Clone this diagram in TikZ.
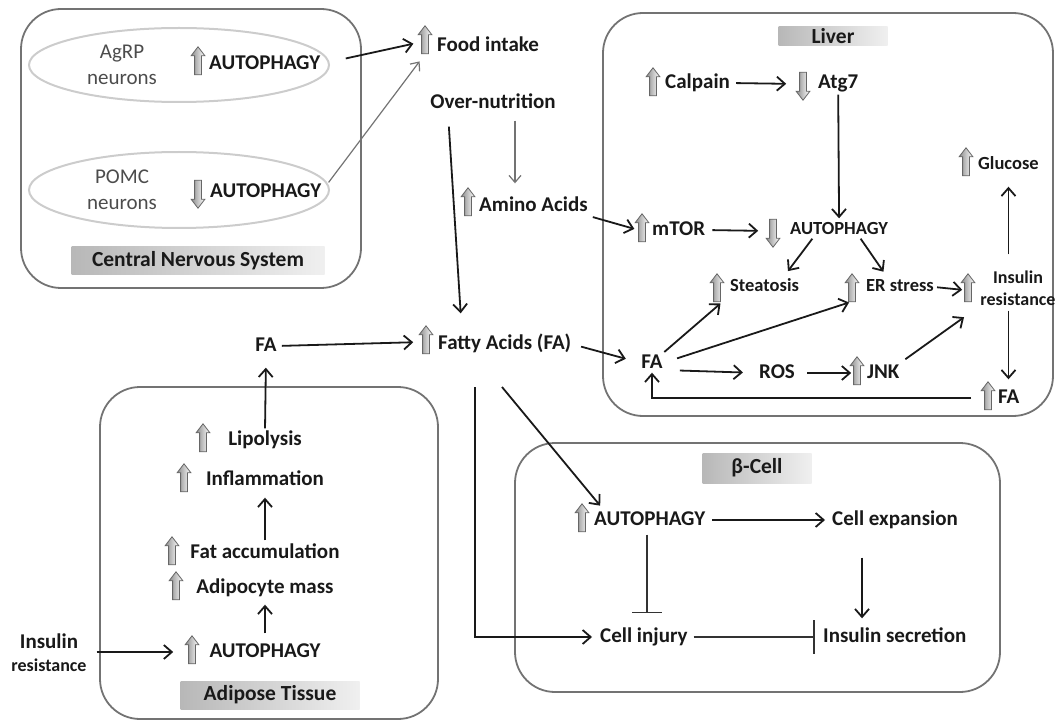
\documentclass[tikz,border=0pt]{standalone}
\usepackage{fontspec}
\setmainfont{Carlito}
\usetikzlibrary{arrows.meta,shapes.geometric,shapes.arrows}

\tikzset{
	lbl/.style={font=\bfseries\fontsize{21}{25}\selectfont, text=black!90, inner sep=0pt, text height=15pt, text depth=4pt},
	slbl/.style={font=\bfseries\fontsize{18.5}{22}\selectfont, text=black!90, inner sep=0pt, text height=13pt, text depth=4pt},
	twolbl/.style={text=black!90, inner sep=0pt, align=center},
	neur/.style={font=\fontsize{21}{26}\selectfont, text=black!70, inner sep=0pt, align=center},
	organ/.style={draw=black!55, line width=1.8pt, rounded corners=40pt},
	tissue/.style={font=\bfseries\fontsize{21.5}{25}\selectfont, text=black!90, inner sep=0pt, left color=black!28, right color=black!6},
	cell/.style={ellipse, draw=black!20, line width=2pt, minimum width=300pt},
	upa/.style={single arrow, shape border rotate=90, draw=black!60, line width=0.8pt, left color=black!45, right color=white, minimum height=28pt, inner sep=3pt, single arrow head extend=3.5pt, single arrow tip angle=75},
	downa/.style={upa, shape border rotate=270},
	arr/.style={line width=1.8pt, draw=black!90, -{Straight Barb[length=8pt,width=14pt]}},
	thinarr/.style={line width=1.2pt, draw=black!55, -{Straight Barb[length=7pt,width=12pt]}},
	inh/.style={line width=1.8pt, draw=black!80, -{Bar[width=#1]}},
}

\begin{document}
\begin{tikzpicture}[x=1pt, y=-1pt]
			%%%%% START %%%%%
			\useasboundingbox (0,0) rectangle (1058,722);
			
			% central nervous system
			\draw[organ] (21,9) rectangle (361,288);
			\node[cell, minimum height=74pt] (agrpell) at (179,65) {};
			\node[cell, minimum height=76pt] (pomcell) at (179,190) {};
			\node[neur] (agrp) at (122,65) {AgRP\\neurons};
			\node[neur] (pomc) at (122,190) {POMC\\neurons};
			\node[upa] (agrpup) at (198,63) {};
			\node[lbl, anchor=west] (agrpaut) at (209,64) {AUTOPHAGY};
			\node[downa] (pomcdown) at (198,192) {};
			\node[lbl, anchor=west] (pomcaut) at (210,192) {AUTOPHAGY};
			\node[tissue, minimum width=253pt, minimum height=28pt] (cns) at (198,261) {Central Nervous System};
			
			% food and nutrients
			\node[upa] (foodup) at (425,42) {};
			\node[lbl, anchor=west] (food) at (437,46) {Food intake};
			\node[lbl] (over) at (493,103) {Over-nutrition};
			\node[upa] (aminoup) at (468,204) {};
			\node[lbl, anchor=west] (amino) at (479,206) {Amino Acids};
			\node[upa] (fattyup) at (426,342) {};
			\node[lbl, anchor=west] (fatty) at (438,344) {Fatty Acids (FA)};
			\node[lbl] (fa) at (266,346) {FA};
			\coordinate (fadown) at (475,387);
			\coordinate (fadiag) at (502,387);
			
			% adipose tissue
			\draw[organ] (100,387) rectangle (438,719);
			\node[upa] (lipoup) at (203,440) {};
			\node[lbl] (lipo) at (265,440) {Lipolysis};
			\node[upa] (influp) at (184,480) {};
			\node[lbl] (infl) at (265,480) {Inflammation};
			\node[upa] (fatup) at (172,553) {};
			\node[lbl] (fatacc) at (265,553) {Fat accumulation};
			\node[upa] (adipoup) at (176,588) {};
			\node[lbl] (adipo) at (265,588) {Adipocyte mass};
			\node[upa] (aautup) at (192,652) {};
			\node[lbl] (aaut) at (265,652) {AUTOPHAGY};
			\node[tissue, minimum width=179pt, minimum height=28pt] (adip) at (270,695) {Adipose Tissue};
			\node[twolbl, font=\bfseries\fontsize{21}{23}\selectfont] (insres) at (49,653) {Insulin\\{\fontsize{18}{20}\selectfont resistance}};
			
			% beta cell
			\draw[organ] (515,443) rectangle (1000,692);
			\node[tissue, minimum width=109pt, minimum height=30pt] (beta) at (757,468) {β-Cell};
			\node[upa] (bautup) at (582,520) {};
			\node[lbl, anchor=west] (baut) at (594,520) {AUTOPHAGY};
			\node[lbl, anchor=west] (cexp) at (832,520) {Cell expansion};
			\node[lbl, anchor=west] (cinj) at (600,637) {Cell injury};
			\node[lbl, anchor=west] (isec) at (823,637) {Insulin secretion};
			
			% liver
			\draw[organ] (603,13) rectangle (1053,416);
			\node[tissue, minimum width=109pt, minimum height=19pt] (liver) at (833,36) {Liver};
			\node[upa] (calpup) at (653,84) {};
			\node[lbl, anchor=west] (calp) at (665,83) {Calpain};
			\node[downa] (atgdown) at (803,84) {};
			\node[lbl, anchor=west] (atg) at (818,83) {Atg7};
			\node[upa] (mtorup) at (642,230) {};
			\node[lbl, anchor=west] (mtor) at (652,230) {mTOR};
			\node[downa] (lautdown) at (773,231) {};
			\node[slbl, anchor=west] (laut) at (790,230) {AUTOPHAGY};
			\node[upa] (steatup) at (717,290) {};
			\node[slbl, anchor=west] (steat) at (730,287) {Steatosis};
			\node[upa] (ersup) at (852,290) {};
			\node[slbl, anchor=west] (ers) at (866,287) {ER stress};
			\node[upa] (insup) at (968,290) {};
			\node[twolbl, font=\bfseries\fontsize{18}{22}\selectfont] (ins) at (1018,288) {Insulin\\resistance};
			\node[upa] (glucup) at (966,164) {};
			\node[slbl, anchor=west] (gluc) at (978,165) {Glucose};
			\node[lbl] (lfa) at (652,363) {FA};
			\node[lbl] (ros) at (777,373) {ROS};
			\node[upa] (jnkup) at (857,373) {};
			\node[lbl, anchor=west] (jnk) at (867,373) {JNK};
			\node[upa] (rfaup) at (988,398) {};
			\node[lbl, anchor=west] (rfa) at (998,398) {FA};
			
			% connectors outside the organs
			\draw[arr, shorten <=26pt, shorten >=8pt] (agrpaut.east) -- (foodup.west);
			\draw[thinarr, shorten <=12pt, shorten >=9pt] (pomcaut.east) -- (foodup.south);
			\draw[thinarr, shorten <=8pt, shorten >=13pt] ([xshift=22pt]over.south) -- ([xshift=22pt]over.south |- amino.north);
			\draw[arr, shorten <=14pt, shorten >=21pt] ([xshift=-45pt]over.south) -- ([xshift=24pt]fatty.north west);
			\draw[arr, shorten <=5pt, shorten >=4pt] (amino.south east) -- (mtorup.west);
			\draw[arr, shorten <=10pt, shorten >=16pt] (fatty.east) -- (lfa.west);
			\draw[arr, shorten <=5pt, shorten >=9pt] (fa.east) -- (fattyup.west);
			\draw[arr, shorten <=2pt, shorten >=12pt] (lipo.north) -- (fa.south);
			\draw[arr, shorten >=6pt] (fadiag) -- ([xshift=10pt]baut.north west);
			\draw[arr, shorten >=8pt] (fadown) |- (cinj.west);
			
			% adipose tissue
			\draw[arr, shorten <=9pt, shorten >=7pt] (aaut) -- (adipo);
			\draw[arr, shorten <=3pt, shorten >=8pt] (fatacc) -- (infl);
			\draw[arr, shorten <=10pt, shorten >=15pt] (insres.east |- aaut.west) -- (aautup.west);
			
			% beta cell
			\draw[arr, shorten <=7pt, shorten >=7pt] (baut.east) -- (cexp.west);
			\draw[inh=30pt, shorten <=5pt, shorten >=14pt] ([xshift=-3pt]baut.south) -- ([xshift=-3pt]baut.south |- cinj.north);
			\draw[inh=34pt, shorten <=6pt, shorten >=8pt] (cinj.east) -- (isec.west);
			\draw[arr, shorten <=28pt, shorten >=9pt] ([xshift=-33pt]cexp.south) -- ([xshift=-33pt]cexp.south |- isec.north);
			
			% liver
			\draw[arr, shorten <=6pt, shorten >=13pt] (calp.east) -- (atgdown.west);
			\draw[arr, shorten <=2pt, shorten >=3pt] (atg.south) -- (laut.north);
			\draw[arr, shorten <=7pt, shorten >=11pt] (mtor.east) -- (lautdown.west);
			\draw[arr, shorten >=9pt] (laut.198) -- ([xshift=18pt]steat.north);
			\draw[arr, shorten >=8pt] (laut.-22) -- ([xshift=22pt]ers.north west);
			\draw[arr, shorten <=3pt, shorten >=2pt] (ers.east) -- (insup.west);
			\draw[arr, shorten <=16pt, shorten >=13pt] (ins.north -| gluc.south) -- (gluc.south);
			\draw[arr, shorten <=5pt, shorten >=9pt] (gluc.south |- ins.south) -- (gluc.south |- rfa.north);
			\draw[arr, shorten <=13pt] (rfaup.west) -| (lfa.south);
			\draw[arr, shorten <=2pt, shorten >=2pt] (lfa.north east) -- ([xshift=5pt]steatup.tail);
			\draw[arr, shorten <=15pt, shorten >=1pt] (lfa.east) -- ([xshift=-2pt]ersup.tail);
			\draw[arr, shorten <=17pt, shorten >=16pt] ([yshift=-7pt]lfa.east) -- (ros.west);
			\draw[arr, shorten <=12pt, shorten >=2pt] (ros.east) -- (jnkup.west);
			\draw[arr, shorten <=7pt, shorten >=20pt] (jnk.north east) -- (ins.south west);
			
			%%%%% END %%%%%
\end{tikzpicture}
\end{document}
